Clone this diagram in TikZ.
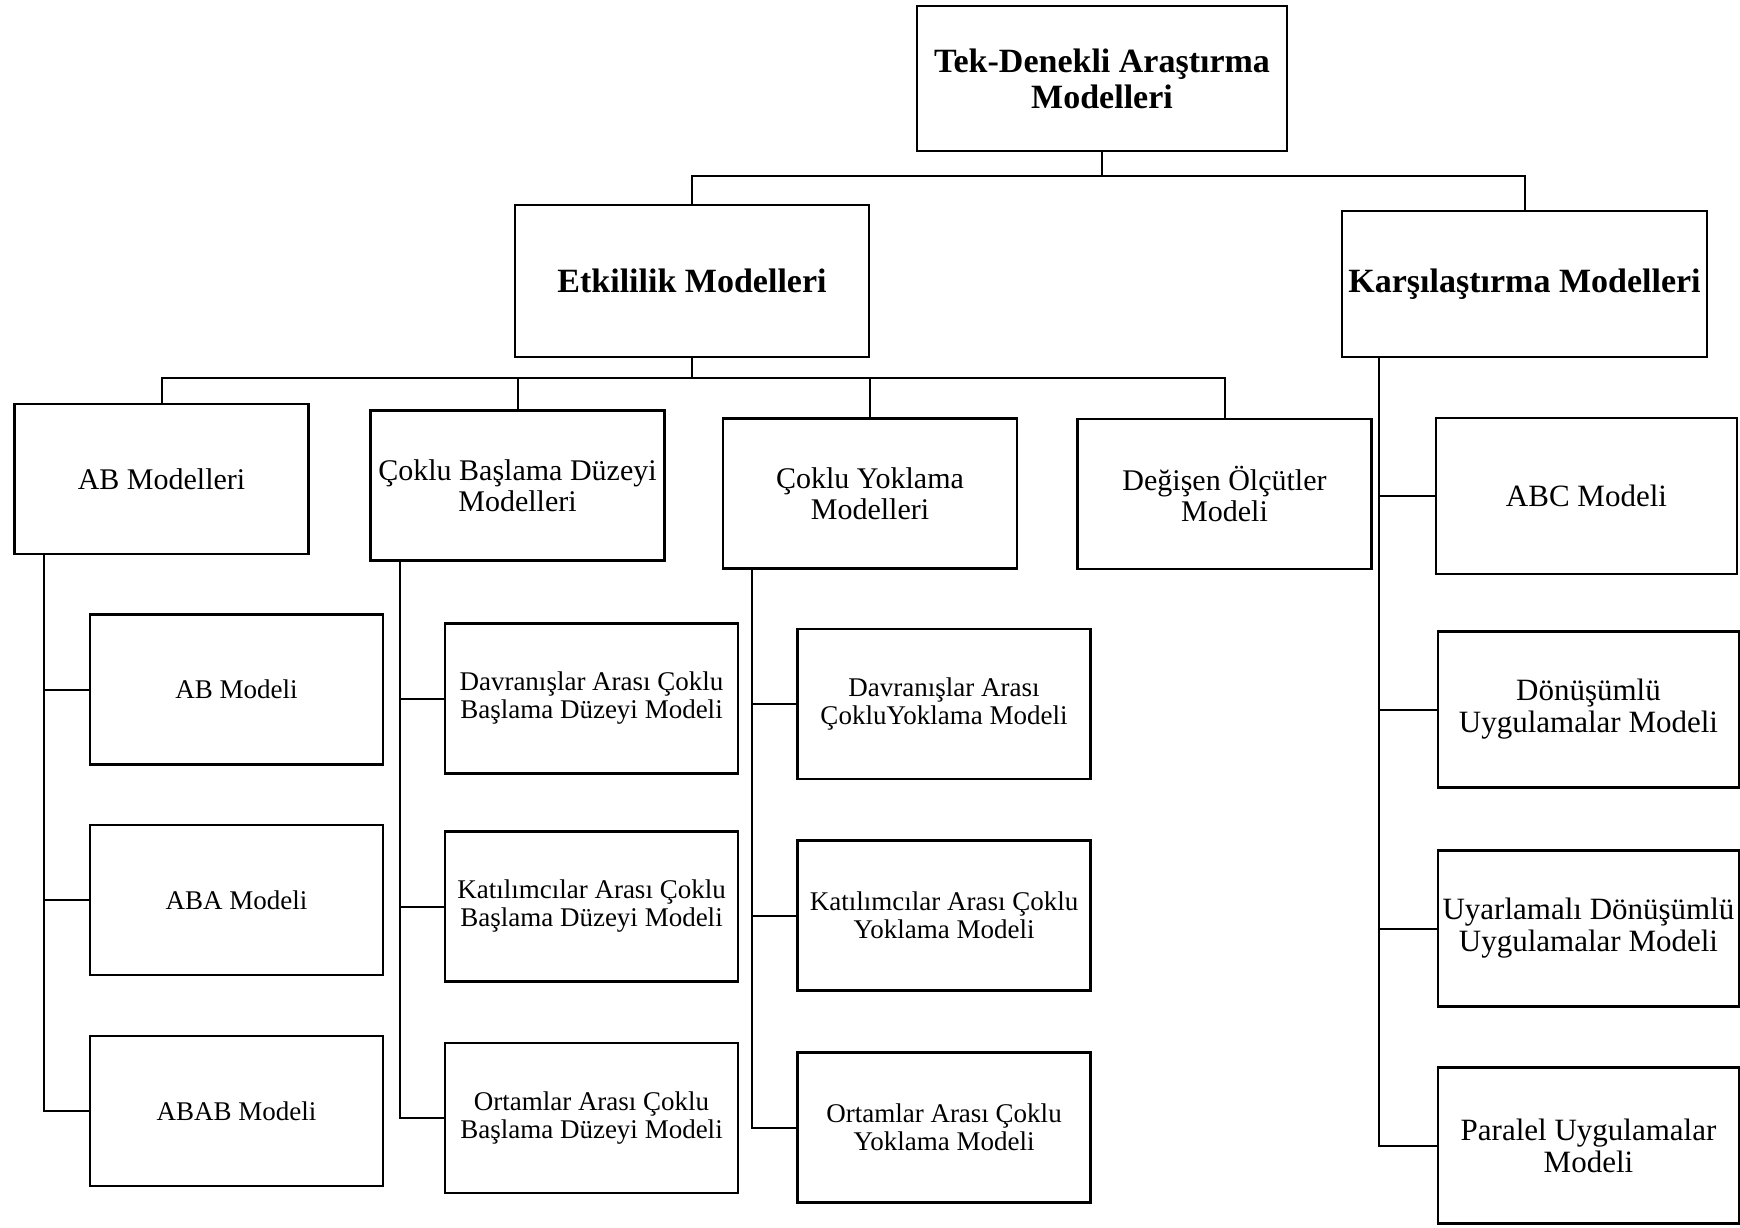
\documentclass[tikz,border=0pt]{standalone}
\usepackage{fontspec}
\setmainfont{Liberation Serif}
\tikzset{
  box/.style={draw, line width=1.3pt, align=center, inner sep=2pt},
  headbox/.style={box, font=\bfseries\fontsize{17}{18}\selectfont},
  midbox/.style={box, font=\fontsize{15}{15.5}\selectfont, minimum width=147pt, minimum height=75pt},
  leafbox/.style={box, font=\fontsize{13.5}{14}\selectfont, minimum width=146.5pt, minimum height=75pt},
  rightbox/.style={box, font=\fontsize{15.5}{16}\selectfont, minimum width=150.5pt, minimum height=78pt},
  conn/.style={line width=1pt}
}
\begin{document}
\begin{tikzpicture}[x=0.5pt, y=-0.5pt]
\useasboundingbox (0,0) rectangle (1740,1227);

% Top levels
\node[headbox, minimum width=185pt, minimum height=72.5pt] (top) at (1102, 78.5) {Tek-Denekli Araştırma\\Modelleri};
\node[headbox, minimum width=177pt, minimum height=76pt] (etk) at (692, 281) {Etkililik Modelleri};
\node[headbox, minimum width=182.5pt, minimum height=73pt] (kars) at (1524.5, 284) {Karşılaştırma Modelleri};

% Second level
\node[midbox] (ab) at (161.5, 479) {AB Modelleri};
\node[midbox] (cb) at (517.5, 485.5) {Çoklu Başlama Düzeyi\\Modelleri};
\node[midbox] (cy) at (870, 493.5) {Çoklu Yoklama\\Modelleri};
\node[midbox] (deg) at (1224.5, 494) {Değişen Ölçütler\\Modeli};

% Leaves
\node[leafbox] (ab1) at (236.5, 689.5) {AB Modeli};
\node[leafbox] (ab2) at (236.5, 900) {ABA Modeli};
\node[leafbox] (ab3) at (236.5, 1111) {ABAB Modeli};
\node[leafbox] (cb1) at (591.5, 698.5) {Davranışlar Arası Çoklu\\Başlama Düzeyi Modeli};
\node[leafbox] (cb2) at (591.5, 906.5) {Katılımcılar Arası Çoklu\\Başlama Düzeyi Modeli};
\node[leafbox] (cb3) at (591.5, 1118) {Ortamlar Arası Çoklu\\Başlama Düzeyi Modeli};
\node[leafbox] (cy1) at (944, 704) {Davranışlar Arası\\ÇokluYoklama Modeli};
\node[leafbox] (cy2) at (944, 915.5) {Katılımcılar Arası Çoklu\\Yoklama Modeli};
\node[leafbox] (cy3) at (944, 1127.5) {Ortamlar Arası Çoklu\\Yoklama Modeli};
\node[rightbox] (k1) at (1586.5, 496) {ABC Modeli};
\node[rightbox] (k2) at (1588.5, 709.5) {Dönüşümlü\\Uygulamalar Modeli};
\node[rightbox] (k3) at (1588.5, 928.5) {Uyarlamalı Dönüşümlü\\Uygulamalar Modeli};
\node[rightbox] (k4) at (1588.5, 1145.5) {Paralel Uygulamalar\\Modeli};

% Connectors
\draw[conn] (top.south) -- ++(0,24) coordinate (topbar);
\draw[conn] (etk.north) |- (topbar) -| (kars.north);
\draw[conn] (etk.south) -- ++(0,20) coordinate (etkbar);
\draw[conn] (ab.north) |- (etkbar) -| (deg.north);
\draw[conn] (cb.north) -- (cb.north |- etkbar);
\draw[conn] (cy.north) -- (cy.north |- etkbar);

\coordinate (abtrunk) at ([xshift=15.5pt]ab.south west);
\coordinate (cbtrunk) at ([xshift=15.5pt]cb.south west);
\coordinate (cytrunk) at ([xshift=15pt]cy.south west);
\coordinate (ktrunk) at ([xshift=19pt]kars.south west);
\draw[conn] (abtrunk) |- (ab3.west);
\draw[conn] (cbtrunk) |- (cb3.west);
\draw[conn] (cytrunk) |- (cy3.west);
\draw[conn] (ktrunk) |- (k4.west);
\foreach \n in {ab1, ab2} \draw[conn] (\n.west) -- (\n.west -| abtrunk);
\foreach \n in {cb1, cb2} \draw[conn] (\n.west) -- (\n.west -| cbtrunk);
\foreach \n in {cy1, cy2} \draw[conn] (\n.west) -- (\n.west -| cytrunk);
\foreach \n in {k1, k2, k3} \draw[conn] (\n.west) -- (\n.west -| ktrunk);
\end{tikzpicture}
\end{document}
